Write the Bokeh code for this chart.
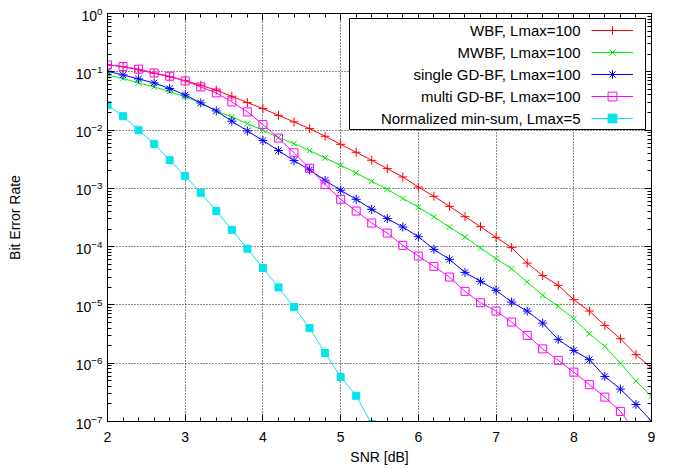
from bokeh.plotting import figure
from bokeh.models import (Range1d, SingleIntervalTicker, LogTicker, LinearAxis, LogAxis,
                          CustomJSTickFormatter, Legend, LegendItem, Label, BoxAnnotation)
from bokeh.embed import file_html
from bokeh.resources import INLINE

# ---------------- data ----------------
snr = [2.0, 2.2, 2.4, 2.6, 2.8, 3.0, 3.2, 3.4, 3.6, 3.8, 4.0, 4.2, 4.4, 4.6, 4.8, 5.0,
       5.2, 5.4, 5.6, 5.8, 6.0, 6.2, 6.4, 6.6, 6.8, 7.0, 7.2, 7.4, 7.6, 7.8, 8.0, 8.2,
       8.4, 8.6, 8.8, 9.0]

wbf = [0.132, 0.122, 0.108, 0.0944, 0.0822, 0.0702, 0.0588, 0.0482, 0.0380, 0.0296,
       0.0234, 0.0179, 0.0138, 0.0106, 0.00783, 0.00570, 0.00416, 0.00303, 0.00218,
       0.00157, 0.00105, 7.31e-4, 4.92e-4, 3.27e-4, 2.20e-4, 1.44e-4, 9.62e-5, 5.23e-5,
       3.18e-5, 2.17e-5, 1.23e-5, 7.84e-6, 4.45e-6, 2.63e-6, 1.40e-6, 8.24e-7]

mwbf = [0.0883, 0.0766, 0.0644, 0.0550, 0.0458, 0.0370, 0.0292, 0.0213, 0.0168, 0.0129,
        0.00993, 0.00744, 0.00586, 0.00445, 0.00332, 0.00249, 0.00184, 0.00132, 9.63e-4,
        6.70e-4, 4.73e-4, 3.25e-4, 2.17e-4, 1.46e-4, 9.46e-5, 6.22e-5, 4.19e-5, 2.47e-5,
        1.46e-5, 9.44e-6, 5.81e-6, 3.21e-6, 1.94e-6, 1.00e-6, 4.93e-7, 2.72e-7]

single_gd = [0.102, 0.0883, 0.0754, 0.0644, 0.0516, 0.0401, 0.0292, 0.0213, 0.0142,
             0.00966, 0.00661, 0.00445, 0.00299, 0.00208, 0.00137, 9.26e-4, 6.49e-4,
             4.37e-4, 3.03e-4, 2.17e-4, 1.48e-4, 8.99e-5, 6.05e-5, 3.62e-5, 2.54e-5,
             1.78e-5, 1.12e-5, 7.84e-6, 4.88e-6, 2.56e-6, 1.66e-6, 1.15e-6, 5.93e-7,
             3.59e-7, 1.96e-7, 1.01e-7]

snr_multi = [2.0, 2.2, 2.4, 2.6, 2.8, 3.0, 3.2, 3.4, 3.6, 3.8, 4.0, 4.2, 4.4, 4.6, 4.8,
             5.0, 5.2, 5.4, 5.6, 5.8, 6.0, 6.2, 6.4, 6.6, 6.8, 7.0, 7.2, 7.4, 7.6, 7.8,
             8.0, 8.2, 8.4, 8.6, 8.8]
multi_gd = [0.131, 0.123, 0.111, 0.0955, 0.0839, 0.0697, 0.0550, 0.0434, 0.0304, 0.0205,
            0.0125, 0.00729, 0.00408, 0.00221, 0.00116, 6.49e-4, 4.08e-4, 2.54e-4,
            1.71e-4, 1.05e-4, 6.90e-5, 4.59e-5, 3.01e-5, 1.71e-5, 1.09e-5, 7.84e-6,
            5.08e-6, 3.00e-6, 1.76e-6, 1.12e-6, 7.03e-7, 4.28e-7, 2.62e-7, 1.49e-7, 6.5e-8]

snr_nms = [2.0, 2.2, 2.4, 2.6, 2.8, 3.0, 3.2, 3.4, 3.6, 3.8, 4.0, 4.2, 4.4, 4.6, 4.8,
           5.0, 5.2, 5.4]
nms = [0.027, 0.0173, 0.00995, 0.0058, 0.00305, 0.00162, 8.4e-4, 4.1e-4, 1.94e-4,
       9.2e-5, 4.3e-5, 2.0e-5, 9.2e-6, 4.0e-6, 1.5e-6, 5.8e-7, 2.76e-7, 9.1e-8]

labels = ["WBF, Lmax=100", "MWBF, Lmax=100", "single GD-BF, Lmax=100",
          "multi GD-BF, Lmax=100", "Normalized min-sum, Lmax=5"]

FONT = "Liberation Sans"

# ---------------- figure ----------------
p = figure(width=677, height=469, x_range=Range1d(2, 9), y_range=Range1d(1e-7, 1),
           y_axis_type="log", output_backend="svg", toolbar_location=None,
           min_border_left=107, min_border_right=26, min_border_top=13, min_border_bottom=48)
p.background_fill_color = "white"
p.border_fill_color = "white"
p.outline_line_color = "black"
p.outline_line_width = 1
p.outline_line_alpha = 1

xt = SingleIntervalTicker(interval=1, num_minor_ticks=5)
yt = LogTicker(num_minor_ticks=10)
p.xaxis.ticker = xt
p.yaxis.ticker = yt
p.xgrid.ticker = xt
p.ygrid.ticker = yt

for g in (p.xgrid, p.ygrid):
    g.grid_line_color = "black"
    g.grid_line_dash = "1 2"
    g.grid_line_width = 1
    g.grid_line_alpha = 0.9

for ax in (p.xaxis, p.yaxis):
    ax.axis_line_color = "black"
    ax.major_tick_line_color = "black"
    ax.minor_tick_line_color = "black"
    ax.major_tick_in = 7
    ax.major_tick_out = 0
    ax.minor_tick_in = 4
    ax.minor_tick_out = 0
    ax.major_label_text_font = FONT
    ax.major_label_text_font_size = "14px"
    ax.major_label_text_color = "black"
    ax.axis_label_text_font = FONT
    ax.axis_label_text_font_size = "14px"
    ax.axis_label_text_font_style = "normal"
    ax.axis_label_text_color = "black"

p.xaxis.axis_label = "SNR [dB]"
p.xaxis.major_label_standoff = 10
p.xaxis.axis_label_standoff = 4
p.yaxis.axis_label = "Bit Error Rate"
p.yaxis.major_label_standoff = 5
p.yaxis.axis_label_standoff = 50

# mirrored tick axes (top / right), no labels
blank = "return ''"
top = LinearAxis(ticker=xt, formatter=CustomJSTickFormatter(code=blank),
                 major_tick_in=7, major_tick_out=0, minor_tick_in=4, minor_tick_out=0,
                 major_label_standoff=0, major_label_text_font_size="0px",
                 axis_line_color="black", major_tick_line_color="black",
                 minor_tick_line_color="black")
p.add_layout(top, "above")
right = LogAxis(ticker=yt, formatter=CustomJSTickFormatter(code=blank),
                major_tick_in=7, major_tick_out=0, minor_tick_in=4, minor_tick_out=0,
                major_label_standoff=0, major_label_text_font_size="0px",
                axis_line_color="black", major_tick_line_color="black",
                minor_tick_line_color="black")
p.add_layout(right, "right")

# ---------------- series ----------------
series = [
    (snr, wbf, "#ff0000", "cross", 9, True),
    (snr, mwbf, "#00ee00", "x", 8, True),
    (snr, single_gd, "#0000ff", "asterisk", 9, True),
    (snr_multi, multi_gd, "#ff00ff", "square", 8, False),
    (snr_nms, nms, "#00e5ee", "square", 7, True),
]

items = []
for (xs, ys, col, mk, sz, filled), lab in zip(series, labels):
    lr = p.line(xs, ys, line_color=col, line_width=1)
    if filled:
        sr = p.scatter(xs, ys, marker=mk, size=sz, line_color=col, fill_color=col,
                       line_width=1)
    else:
        sr = p.scatter(xs, ys, marker=mk, size=sz, line_color=col, fill_color=None,
                       line_width=1)
    items.append(LegendItem(label=" ", renderers=[lr, sr]))

# ---------------- legend ----------------
box = BoxAnnotation(left=5.114, right=8.923, top=0.821, bottom=0.01023,
                    fill_color="white", fill_alpha=1, line_color="black", line_width=1,
                    line_alpha=1)
p.add_layout(box)

row_y = [0.511, 0.2143, 0.0898, 0.0377, 0.0158]
for lab, yy in zip(labels, row_y):
    p.add_layout(Label(x=8.087, y=yy, text=lab, text_align="right", text_baseline="middle",
                       text_font=FONT, text_font_size="15px", text_color="black"))

leg = Legend(items=items, location=(484, 292), padding=0, margin=0, spacing=0,
             glyph_width=42, glyph_height=22, label_standoff=0, label_width=0,
             label_height=0, label_text_font_size="1px", border_line_color=None,
             background_fill_alpha=0)
p.add_layout(leg)

open("out.html", "w").write(file_html(p, INLINE))
